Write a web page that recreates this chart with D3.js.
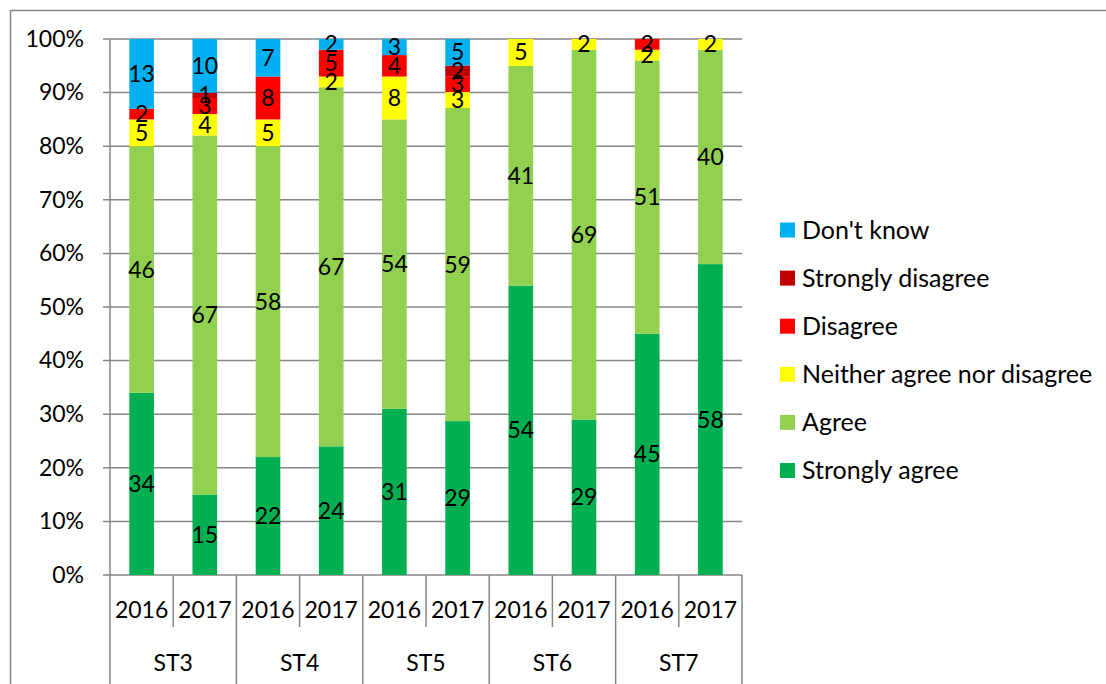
<!DOCTYPE html>
<html>
<head>
<meta charset="utf-8">
<script src="https://cdn.jsdelivr.net/npm/d3@7"></script>
<style>
  body { margin: 0; background: #fff; }
  svg { display: block; font-family: Lato, "Open Sans", sans-serif; }
</style>
</head>
<body>
<svg id="main" width="1106" height="684"></svg>
<script>
// survey results, one entry per bar (ST3 2016, ST3 2017, ST4 2016, ...)
const groups = ["ST3", "ST4", "ST5", "ST6", "ST7"];
const years = ["2016", "2017"];
const stronglyAgree     = [34, 15, 22, 24, 31, 29, 54, 29, 45, 58];
const agree             = [46, 67, 58, 67, 54, 59, 41, 69, 51, 40];
const neither           = [ 5,  4,  5,  2,  8,  3,  5,  2,  2,  2];
const disagree          = [ 2,  3,  8,  5,  4,  3,  0,  0,  2,  0];
const stronglyDisagree  = [ 0,  1,  0,  0,  0,  2,  0,  0,  0,  0];
const dontKnow          = [13, 10,  7,  2,  3,  5,  0,  0,  0,  0];
const seriesNames = ["Strongly agree", "Agree", "Neither agree nor disagree",
                     "Disagree", "Strongly disagree", "Don't know"];
const seriesValues = [stronglyAgree, agree, neither, disagree, stronglyDisagree, dontKnow];
const seriesColors = ["#00B050", "#92D050", "#FFFF00", "#FF0000", "#C00000", "#00B0F0"];
const yTicks = [0, 0.1, 0.2, 0.3, 0.4, 0.5, 0.6, 0.7, 0.8, 0.9, 1];

// build one row per bar
const rows = [];
groups.forEach((g, gi) => {
    years.forEach((yr, yi) => {
        const i = gi * years.length + yi;
        const row = { key: g + "-" + yr, group: g, year: yr };
        seriesNames.forEach((s, si) => row[s] = seriesValues[si][i]);
        rows.push(row);
    });
});

const svg = d3.select("#main");
const plotLeft = 110, plotRight = 742, plotTop = 39, plotBottom = 575;
const gray = "#868686";
const fontSize = 23;

// outer chart border
svg.append("rect")
    .attr("x", 10.5).attr("y", 10.5)
    .attr("width", 1200).attr("height", 800)
    .attr("fill", "none").attr("stroke", gray).attr("stroke-width", 1.5);

const x = d3.scaleBand()
    .domain(rows.map(d => d.key))
    .range([plotLeft, plotRight])
    .padding(0);

const y = d3.scaleLinear()
    .domain([0, 1])
    .range([plotBottom, plotTop]);

// gridlines
svg.append("g")
    .selectAll("line")
    .data(yTicks)
    .enter()
    .append("line")
    .attr("x1", plotLeft - 7).attr("x2", plotRight)
    .attr("y1", d => y(d)).attr("y2", d => y(d))
    .attr("stroke", gray).attr("stroke-width", 1.5);

// y axis labels
const yAxis = d3.axisLeft(y)
    .tickValues(yTicks)
    .tickFormat(d3.format(".0%"))
    .tickSize(0)
    .tickPadding(26);
svg.append("g")
    .attr("transform", `translate(${plotLeft},0)`)
    .call(yAxis)
    .call(g => g.select(".domain").remove())
    .call(g => g.selectAll("text")
        .attr("font-family", "Lato, sans-serif")
        .attr("font-size", fontSize)
        .attr("fill", "#000"));

// stacked bars
const stack = d3.stack()
    .keys(seriesNames)
    .offset(d3.stackOffsetExpand);
const stacked = stack(rows);

const barW = x.bandwidth() * 0.39;

const layers = svg.append("g")
    .selectAll(".layer")
    .data(stacked)
    .enter()
    .append("g")
    .classed("layer", true)
    .attr("fill", (d, i) => seriesColors[i]);

layers.selectAll("rect")
    .data(d => d.filter(p => p[1] > p[0]))
    .enter()
    .append("rect")
    .attr("x", d => x(d.data.key) + (x.bandwidth() - barW) / 2)
    .attr("width", barW)
    .attr("y", d => y(d[1]))
    .attr("height", d => y(d[0]) - y(d[1]));

// value labels
const labels = svg.append("g");
stacked.forEach(layer => {
    labels.selectAll(null)
        .data(layer.filter(p => p[1] > p[0]))
        .enter()
        .append("text")
        .attr("x", d => x(d.data.key) + x.bandwidth() / 2)
        .attr("y", d => y((d[0] + d[1]) / 2))
        .attr("dy", "0.35em")
        .attr("text-anchor", "middle")
        .attr("font-size", fontSize)
        .attr("fill", "#000")
        .text(d => d.data[layer.key]);
});

// axis line at left
svg.append("line")
    .attr("x1", plotLeft).attr("x2", plotLeft)
    .attr("y1", plotTop).attr("y2", 700)
    .attr("stroke", gray).attr("stroke-width", 1.5);

// multi-level category axis
const cat = svg.append("g");
rows.forEach((d, i) => {
    const xr = x(d.key) + x.bandwidth();
    const isGroupEnd = (i + 1) % years.length === 0;
    cat.append("line")
        .attr("x1", xr).attr("x2", xr)
        .attr("y1", plotBottom).attr("y2", isGroupEnd ? 700 : 627)
        .attr("stroke", gray).attr("stroke-width", 1.5);
    cat.append("text")
        .attr("x", x(d.key) + x.bandwidth() / 2)
        .attr("y", 610)
        .attr("dy", "0.35em")
        .attr("text-anchor", "middle")
        .attr("font-size", fontSize)
        .text(d.year);
});
groups.forEach(g => {
    const x0 = x(g + "-" + years[0]);
    const x1 = x(g + "-" + years[years.length - 1]) + x.bandwidth();
    cat.append("text")
        .attr("x", (x0 + x1) / 2)
        .attr("y", 663)
        .attr("dy", "0.35em")
        .attr("text-anchor", "middle")
        .attr("font-size", fontSize)
        .text(g);
});

// legend, top entry is last series
const legend = svg.append("g")
    .selectAll(".item")
    .data(seriesNames.slice().reverse())
    .enter()
    .append("g")
    .classed("item", true)
    .attr("transform", (d, i) => `translate(780, ${230 + i * 48.1})`);
legend.append("rect")
    .attr("x", 0).attr("y", -7.5)
    .attr("width", 15).attr("height", 15)
    .attr("fill", d => seriesColors[seriesNames.indexOf(d)]);
legend.append("text")
    .attr("x", 22)
    .attr("dy", "0.35em")
    .attr("font-size", 25)
    .text(d => d);
</script>
</body>
</html>
